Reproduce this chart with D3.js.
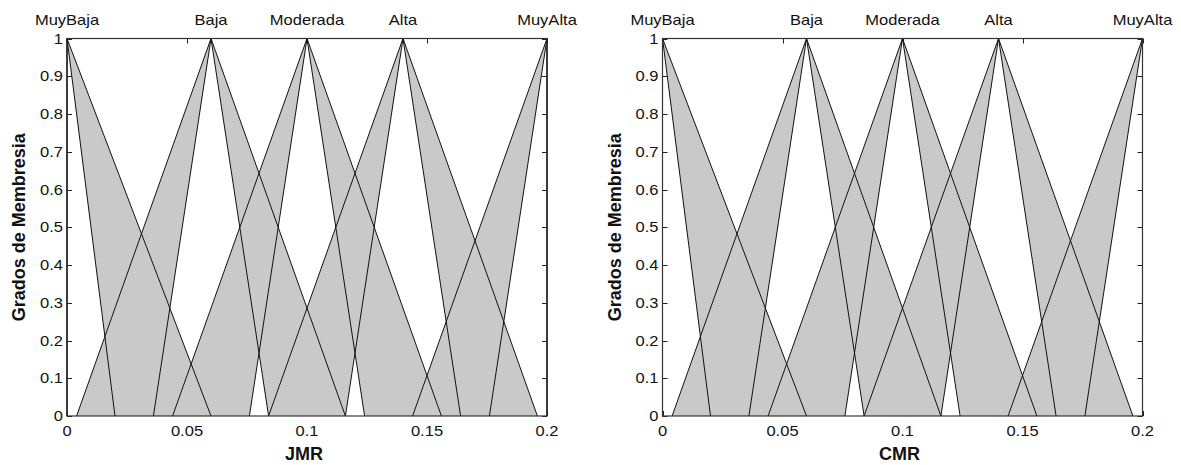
<!DOCTYPE html>
<html>
<head>
<meta charset="utf-8">
<script src="https://cdn.jsdelivr.net/npm/d3@7"></script>
<style>
  html, body { margin: 0; padding: 0; background: #fff; }
  svg { display: block; }
</style>
</head>
<body>
<svg id="chart" width="1181" height="465"></svg>
<script>
// Linguistic terms of the interval type-2 fuzzy partition
const terms = ["MuyBaja", "Baja", "Moderada", "Alta", "MuyAlta"];
// Apex of every triangular set (membership = 1)
const peaks = [0, 0.06, 0.1, 0.14, 0.2];
// Feet of the upper membership functions
const upperLeft = [0, 0.004, 0.044, 0.084, 0.144];
const upperRight = [0.06, 0.116, 0.156, 0.196, 0.2];
// Feet of the lower membership functions
const lowerLeft = [0, 0.036, 0.076, 0.116, 0.176];
const lowerRight = [0.02, 0.084, 0.124, 0.164, 0.2];

const xTicks = [0, 0.05, 0.1, 0.15, 0.2];
const xTickLabels = ["0", "0.05", "0.1", "0.15", "0.2"];
const yTicks = [0, 0.1, 0.2, 0.3, 0.4, 0.5, 0.6, 0.7, 0.8, 0.9, 1];
const yTickLabels = ["0", "0.1", "0.2", "0.3", "0.4", "0.5", "0.6", "0.7", "0.8", "0.9", "1"];

const variables = ["JMR", "CMR"];
const yTitle = "Grados de Membresia";

const svg = d3.select("#chart");
const panelLeft = [67, 662.5];
const plotW = 480;
const plotTop = 38.5, plotBottom = 416;
const stretch = 1.18;
const fontReg = "'Liberation Sans', Arial, sans-serif";

variables.forEach((name, i) => {
  const x = d3.scaleLinear().domain([0, 0.2]).range([panelLeft[i], panelLeft[i] + plotW]);
  const y = d3.scaleLinear().domain([0, 1]).range([plotBottom, plotTop]);
  const g = svg.append("g");

  // Tick marks drawn inside the box, under the data
  const tickLen = 5;
  const ticks = g.append("g").attr("stroke", "#222").attr("stroke-width", 1);
  xTicks.forEach(v => {
    const px = Math.round(x(v)) + 0.5;
    ticks.append("line").attr("x1", px).attr("x2", px).attr("y1", plotBottom).attr("y2", plotBottom - tickLen);
    ticks.append("line").attr("x1", px).attr("x2", px).attr("y1", plotTop).attr("y2", plotTop + tickLen);
  });
  yTicks.forEach(v => {
    const py = Math.round(y(v)) + 0.5;
    ticks.append("line").attr("x1", x(0)).attr("x2", x(0) + tickLen).attr("y1", py).attr("y2", py);
    ticks.append("line").attr("x1", x(0.2)).attr("x2", x(0.2) - tickLen).attr("y1", py).attr("y2", py);
  });

  // Footprint of uncertainty for each term
  const fou = terms.map((t, k) => [
    [upperLeft[k], 0], [peaks[k], 1], [upperRight[k], 0],
    [lowerRight[k], 0], [peaks[k], 1], [lowerLeft[k], 0]
  ]);
  const line = d3.line().x(d => x(d[0])).y(d => y(d[1]));
  g.append("g").selectAll("path").data(fou).join("path")
    .attr("d", d => line(d) + "Z")
    .attr("fill", "#c9c9c9")
    .attr("stroke", "none");

  // Upper and lower membership function outlines
  const outlines = [];
  terms.forEach((t, k) => {
    outlines.push([[upperLeft[k], 0], [peaks[k], 1], [upperRight[k], 0]]);
    outlines.push([[lowerLeft[k], 0], [peaks[k], 1], [lowerRight[k], 0]]);
  });
  g.append("g").selectAll("path").data(outlines).join("path")
    .attr("d", line)
    .attr("fill", "none")
    .attr("stroke", "#111")
    .attr("stroke-width", 1);

  // Axes box
  g.append("rect")
    .attr("x", x(0)).attr("y", plotTop)
    .attr("width", plotW).attr("height", plotBottom - plotTop)
    .attr("fill", "none").attr("stroke", "#333").attr("stroke-width", 1.2);

  const label = (txt, px, py, anchor) => g.append("text")
    .attr("transform", `translate(${px},${py}) scale(${stretch},1)`)
    .attr("text-anchor", anchor)
    .attr("font-family", fontReg)
    .attr("font-size", 14)
    .attr("fill", "#111")
    .text(txt);

  // Tick labels
  xTicks.forEach((v, k) => label(xTickLabels[k], x(v), 436, "middle"));
  yTicks.forEach((v, k) => label(yTickLabels[k], x(0) - 4, y(v) + 5, "end"));

  // Term names above each apex
  terms.forEach((t, k) => label(t, x(peaks[k]), 25, "middle"));

  // Axis titles
  g.append("text")
    .attr("x", x(0.1) - 3).attr("y", 460)
    .attr("text-anchor", "middle")
    .attr("font-family", fontReg).attr("font-weight", "bold").attr("font-size", 18)
    .attr("fill", "#111")
    .text(name);
  g.append("text")
    .attr("transform", `translate(${x(0) - 42},${(plotTop + plotBottom) / 2}) rotate(-90)`)
    .attr("text-anchor", "middle")
    .attr("font-family", fontReg).attr("font-weight", "bold").attr("font-size", 18)
    .attr("fill", "#111")
    .text(yTitle);
});
</script>
</body>
</html>
